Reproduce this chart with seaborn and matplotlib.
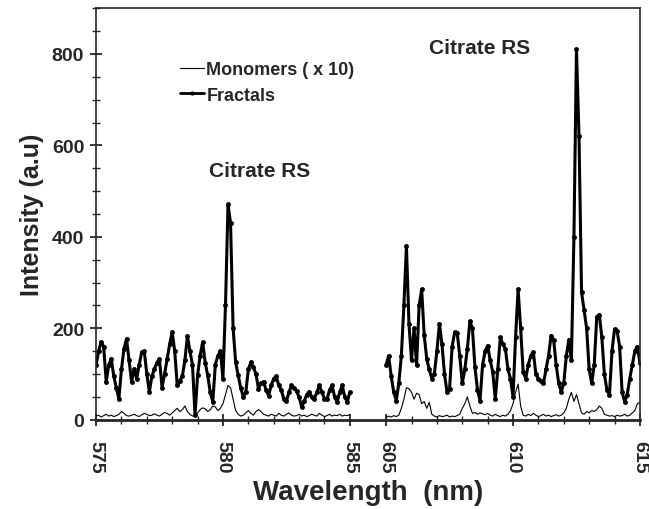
import numpy as np
import pandas as pd
import seaborn as sns
from matplotlib import pyplot as plt
from matplotlib.lines import Line2D

# wavelength grids (nm), 0.1 nm steps for the two windows
wl_left = np.round(np.arange(575.0, 585.01, 0.1), 2)
wl_right = np.round(np.arange(605.0, 615.01, 0.1), 2)

fractals_left = [120, 150, 170, 160, 83, 120, 133, 95, 70, 46,
                 110, 155, 177, 130, 83, 111, 90, 120, 148, 150,
                 100, 61, 95, 111, 125, 133, 70, 100, 133, 165,
                 192, 150, 75, 85, 95, 130, 183, 150, 120, 10,
                 97, 140, 170, 125, 97, 60, 39, 120, 140, 150,
                 90, 250, 471, 430, 200, 126, 97, 70, 50, 60,
                 110, 126, 115, 100, 68, 80, 83, 65, 53, 75,
                 90, 95, 75, 65, 45, 40, 60, 75, 70, 62,
                 50, 28, 40, 55, 61, 50, 46, 60, 75, 60,
                 46, 45, 65, 75, 50, 39, 60, 75, 50, 39, 60]
monomers_left = [8, 10, 6, 9, 12, 8, 10, 7, 9, 12,
                 18, 14, 9, 8, 10, 12, 9, 7, 11, 14,
                 12, 9, 10, 13, 10, 8, 12, 16, 14, 10,
                 15, 20, 25, 18, 22, 30, 18, 12, 8, 10,
                 15, 22, 26, 24, 18, 22, 30, 28, 20, 25,
                 35, 55, 75, 70, 45, 20, 12, 8, 10, 15,
                 20, 14, 10, 18, 22, 18, 12, 10, 8, 12,
                 10, 8, 14, 10, 8, 12, 15, 10, 8, 9,
                 12, 8, 10, 7, 9, 12, 10, 8, 14, 10,
                 7, 9, 12, 8, 10, 9, 12, 8, 10, 9, 11]
fractals_right = [120, 140, 95, 60, 42, 80, 140, 250, 380, 210,
                  130, 200, 120, 250, 285, 185, 133, 110, 90, 100,
                  150, 210, 165, 100, 60, 68, 160, 191, 190, 140,
                  80, 110, 155, 215, 200, 115, 65, 42, 120, 150,
                  162, 130, 105, 45, 110, 180, 165, 155, 110, 90,
                  50, 180, 285, 200, 105, 90, 120, 140, 148, 100,
                  90, 85, 80, 110, 140, 184, 175, 120, 80, 61,
                  80, 140, 175, 130, 400, 810, 620, 279, 240, 200,
                  110, 80, 120, 225, 230, 180, 100, 65, 55, 150,
                  198, 195, 160, 60, 39, 55, 90, 120, 150, 160, 125]
monomers_right = [5, 8, 6, 9, 7, 10, 25, 45, 70, 68,
                  60, 45, 58, 55, 35, 40, 25, 38, 12, 8,
                  6, 9, 7, 8, 10, 6, 8, 7, 9, 12,
                  25, 35, 50, 30, 14, 16, 12, 15, 13, 11,
                  14, 10, 8, 12, 9, 7, 10, 8, 12, 20,
                  35, 60, 78, 30, 10, 8, 12, 9, 14, 10,
                  7, 9, 12, 8, 10, 7, 9, 11, 8, 10,
                  15, 25, 45, 60, 40, 55, 35, 15, 12, 18,
                  15, 20, 18, 22, 30, 25, 12, 10, 8, 9,
                  7, 10, 8, 9, 12, 8, 10, 15, 20, 35, 38]

# axis break: 605 nm is drawn just after 585 nm
GAP_START = 586.43
SHIFT = 605.0 - GAP_START


def to_pos(wl):
    wl = np.asarray(wl, dtype=float)
    return np.where(wl >= 600, wl - SHIFT, wl)


frames = []
for seg, wl, fr, mo in [("L", wl_left, fractals_left, monomers_left),
                        ("R", wl_right, fractals_right, monomers_right)]:
    frames.append(pd.DataFrame({"pos": to_pos(wl), "intensity": fr,
                                "series": "Fractals", "segment": seg}))
    frames.append(pd.DataFrame({"pos": to_pos(wl), "intensity": mo,
                                "series": "Monomers", "segment": seg}))
data = pd.concat(frames, ignore_index=True)

sns.set_style("ticks")
plt.rcParams['font.family'] = ['Liberation Sans', 'DejaVu Sans']
plt.rcParams['font.weight'] = 'bold'

fig = plt.figure(figsize=(6.49, 5.10), dpi=100)
ax = fig.add_axes([0.148, 0.175, 0.838, 0.807])

for seg in ["L", "R"]:
    d = data[(data.segment == seg) & (data.series == "Monomers")]
    sns.lineplot(data=d, x="pos", y="intensity", ax=ax, color="black",
                 linewidth=0.8, estimator=None, sort=False)
    d = data[(data.segment == seg) & (data.series == "Fractals")]
    sns.lineplot(data=d, x="pos", y="intensity", ax=ax, color="black",
                 linewidth=2.2, marker="o", markersize=3.5, markeredgewidth=0,
                 estimator=None, sort=False)

ax.set_xlim(575, 615 - SHIFT)
ax.set_ylim(0, 900)

major_wl = [575, 580, 585, 605, 610, 615]
minor_wl = list(range(575, 586)) + list(range(605, 616))
ax.set_xticks(to_pos(major_wl))
ax.set_xticklabels([str(w) for w in major_wl], rotation=270, fontsize=14,
                   fontweight='bold')
ax.set_xticks(to_pos(minor_wl), minor=True)
ax.set_yticks([0, 200, 400, 600, 800])
ax.set_yticklabels(["0", "200", "400", "600", "800"], fontsize=14,
                   fontweight='bold')
ax.set_yticks(np.arange(0, 901, 50), minor=True)
ax.tick_params(axis="both", which="major", direction="inout", length=9,
               width=1.3, pad=4)
ax.tick_params(axis="x", which="major", pad=10)
ax.tick_params(axis="both", which="minor", direction="inout", length=6,
               width=1.0)

for side in ["top", "right", "left"]:
    ax.spines[side].set_linewidth(1.2)
ax.spines["bottom"].set_linewidth(2.0)

ax.set_xlabel("Wavelength  (nm)", fontsize=20, fontweight='bold', labelpad=5)
ax.set_ylabel("Intensity (a.u)", fontsize=18, fontweight='bold', labelpad=6)

ax.text(581.45, 545, "Citrate RS", ha="center", va="center", fontsize=15,
        fontweight='bold')
ax.text(608.7 - SHIFT, 813, "Citrate RS", ha="center", va="center",
        fontsize=15, fontweight='bold')

handles = [Line2D([], [], color="black", linewidth=0.8),
           Line2D([], [], color="black", linewidth=2.0, marker="o",
                  markersize=3, markeredgewidth=0)]
ax.legend(handles, ["Monomers ( x 10)", "Fractals"], loc="upper left",
          bbox_to_anchor=(0.125, 0.91), frameon=False, handlelength=1.3,
          handletextpad=0.15, labelspacing=0.45,
          prop={"size": 13, "weight": "bold"})

fig.savefig("out.png", dpi=100)
